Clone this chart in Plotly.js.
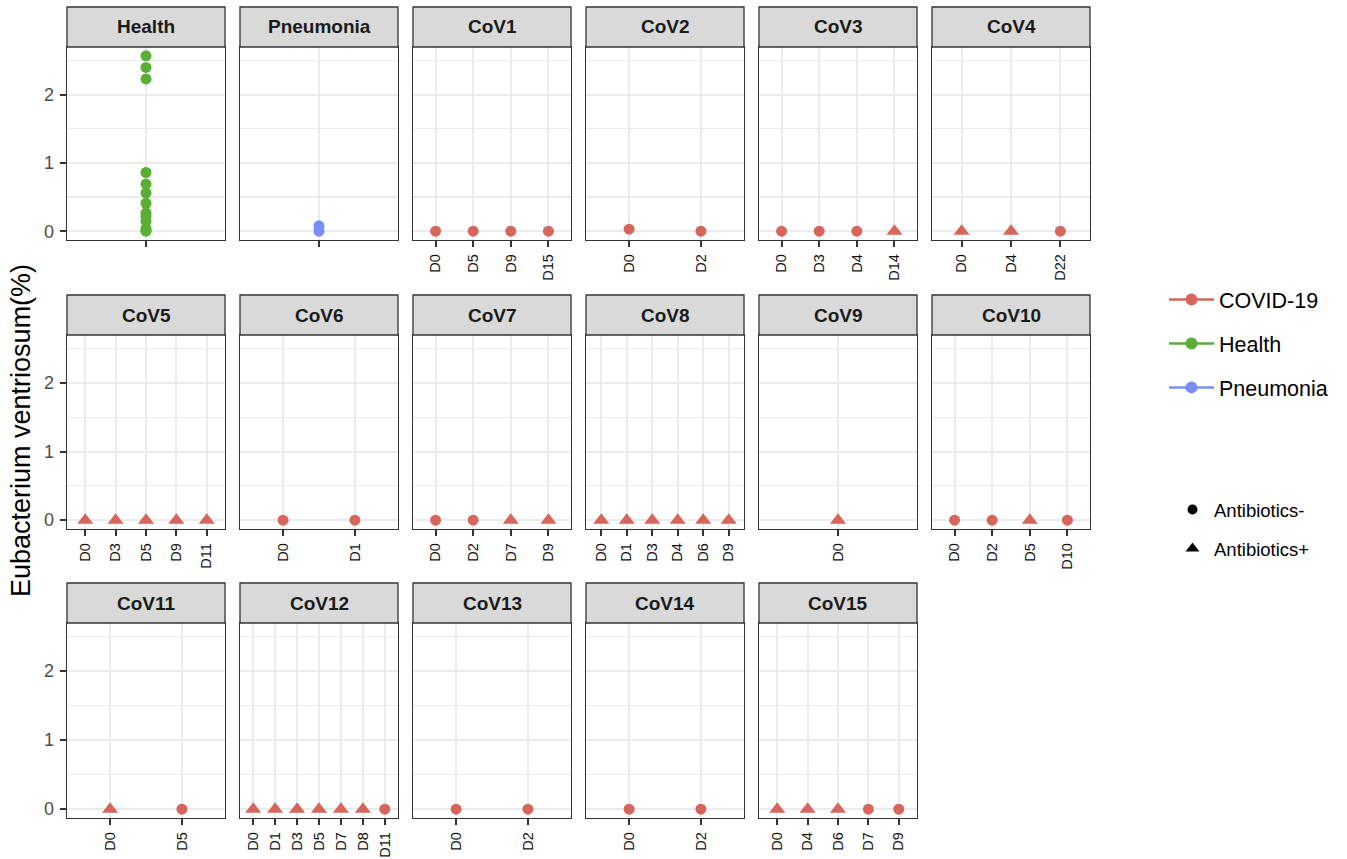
<!DOCTYPE html>
<html><head><meta charset="utf-8">
<script src="https://cdn.plot.ly/plotly-3.0.1.min.js"></script>
<style>html,body{margin:0;padding:0;background:#fff}</style>
</head><body><div id="chart" style="width:1347px;height:859px"></div>
<script>
// ---------------- data ----------------
const panelNames = ["Health","Pneumonia","CoV1","CoV2","CoV3","CoV4","CoV5","CoV6","CoV7","CoV8","CoV9","CoV10","CoV11","CoV12","CoV13","CoV14","CoV15"];
const healthValues = [2.57, 2.40, 2.23, 0.86, 0.69, 0.56, 0.41, 0.27, 0.22, 0.15, 0.04, 0.01, 0.00];
const pneumoniaValues = [0.08, 0.00];
const covDays = [
  ["D0","D5","D9","D15"],
  ["D0","D2"],
  ["D0","D3","D4","D14"],
  ["D0","D4","D22"],
  ["D0","D3","D5","D9","D11"],
  ["D0","D1"],
  ["D0","D2","D7","D9"],
  ["D0","D1","D3","D4","D6","D9"],
  ["D0"],
  ["D0","D2","D5","D10"],
  ["D0","D5"],
  ["D0","D1","D3","D5","D7","D8","D11"],
  ["D0","D2"],
  ["D0","D2"],
  ["D0","D4","D6","D7","D9"]
];
const covValues = [
  [0.00, 0.00, 0.00, 0.00],
  [0.03, 0.00],
  [0.00, 0.00, 0.00, 0.00],
  [0.00, 0.00, 0.00],
  [0.00, 0.00, 0.00, 0.00, 0.00],
  [0.00, 0.00],
  [0.00, 0.00, 0.00, 0.00],
  [0.00, 0.00, 0.00, 0.00, 0.00, 0.00],
  [0.00],
  [0.00, 0.00, 0.00, 0.00],
  [0.00, 0.00],
  [0.00, 0.00, 0.00, 0.00, 0.00, 0.00, 0.00],
  [0.00, 0.00],
  [0.00, 0.00],
  [0.00, 0.00, 0.00, 0.00, 0.00]
];
// 1 = Antibiotics+, 0 = Antibiotics-
const covAntibiotics = [
  [0,0,0,0],
  [0,0],
  [0,0,0,1],
  [1,1,0],
  [1,1,1,1,1],
  [0,0],
  [0,0,1,1],
  [1,1,1,1,1,1],
  [1],
  [0,0,1,0],
  [1,0],
  [1,1,1,1,1,1,0],
  [0,0],
  [0,0],
  [1,1,1,0,0]
];
const groupNames = ["COVID-19","Health","Pneumonia"];
const groupColors = ["#D6665C","#59AF35","#7A8DF7"];
const antibioticLabels = ["Antibiotics-","Antibiotics+"];
const antibioticSymbols = ["circle","triangle-up"];
const yTickValues = [0, 1, 2];
const yTitle = "Eubacterium ventriosum(%)";

// ---------------- geometry ----------------
const W = 1347, H = 859;
const colLeft = [67, 240, 413, 586, 759, 932];
const panelW = 158;
const rowTop = [47, 335, 623];
const rowBottom = [240, 529, 818];
const stripH = 40;
const FONT = "Liberation Sans, Arial, Helvetica, sans-serif";

// y range: data range with 5% expansion (ggplot style)
let allVals = healthValues.concat(pneumoniaValues);
covValues.forEach(v => allVals = allVals.concat(v));
const yMaxData = Math.max(...allVals), yMinData = Math.min(...allVals);
const yPad = (yMaxData - yMinData) * 0.05;
const yRange = [yMinData - yPad, yMaxData + yPad];

const traces = [];
const layout = {
  width: W, height: H,
  margin: {l:0, r:0, t:0, b:0},
  paper_bgcolor: "#ffffff", plot_bgcolor: "#ffffff",
  font: {family: FONT, color: "#000"},
  showlegend: true,
  shapes: [], annotations: []
};

panelNames.forEach((name, i) => {
  const k = i + 1;
  const col = i % 6, row = Math.floor(i / 6);
  let cats, ticktext, xs, ys, syms, color;
  if (name === "Health") {
    cats = ["Health"]; ticktext = [""];
    xs = healthValues.map(() => "Health"); ys = healthValues;
    syms = healthValues.map(() => antibioticSymbols[0]); color = groupColors[1];
  } else if (name === "Pneumonia") {
    cats = ["Pneumonia"]; ticktext = [""];
    xs = pneumoniaValues.map(() => "Pneumonia"); ys = pneumoniaValues;
    syms = pneumoniaValues.map(() => antibioticSymbols[0]); color = groupColors[2];
  } else {
    const c = i - 2;
    cats = covDays[c]; ticktext = covDays[c];
    xs = covDays[c]; ys = covValues[c];
    syms = covAntibiotics[c].map(a => antibioticSymbols[a]); color = groupColors[0];
  }
  traces.push({
    type: "scatter", mode: "markers", x: xs, y: ys,
    xaxis: "x" + k, yaxis: "y" + k, showlegend: false, cliponaxis: false,
    marker: {color: color, opacity: 1, size: syms.map(s => s === "circle" ? 11 : 14), symbol: syms, line: {width: 0}},
    hoverinfo: "x+y"
  });
  const x0 = colLeft[col], x1 = colLeft[col] + panelW;
  const yt = rowTop[row], yb = rowBottom[row];
  layout["xaxis" + (k === 1 ? "" : k)] = {
    domain: [x0 / W, x1 / W], anchor: "y" + k,
    type: "category", categoryorder: "array", categoryarray: cats,
    range: [-0.6, cats.length - 0.4],
    tickmode: "array", tickvals: cats, ticktext: ticktext,
    tickangle: -90, ticks: "outside", ticklen: 6, tickwidth: 2, tickcolor: "#333333",
    ticklabelstandoff: 1,
    tickfont: {size: 14.5, color: "#111111", family: FONT},
    showgrid: true, gridcolor: "#EBEBEB", gridwidth: 2,
    showline: true, mirror: true, linecolor: "#333333", linewidth: 1.3,
    zeroline: false, fixedrange: true
  };
  layout["yaxis" + (k === 1 ? "" : k)] = {
    domain: [1 - yb / H, 1 - yt / H], anchor: "x" + k,
    range: yRange, tickmode: "array", tickvals: yTickValues,
    showticklabels: col === 0, ticks: col === 0 ? "outside" : "",
    ticklen: 6, tickwidth: 2, tickcolor: "#333333", ticklabelstandoff: 2,
    tickfont: {size: 18, color: "#4D4D4D", family: FONT},
    showgrid: true, gridcolor: "#EBEBEB", gridwidth: 2,
    minor: {tickvals: [0.5, 1.5, 2.5], showgrid: true, gridcolor: "#EBEBEB", gridwidth: 1.2, ticks: ""},
    showline: true, mirror: true, linecolor: "#333333", linewidth: 1.3,
    zeroline: false, fixedrange: true
  };
  // facet strip
  layout.shapes.push({
    type: "rect", xref: "paper", yref: "paper",
    x0: x0 / W, x1: x1 / W, y0: 1 - yt / H, y1: 1 - (yt - stripH) / H,
    fillcolor: "#D9D9D9", line: {color: "#333333", width: 1.3}, layer: "above"
  });
  layout.annotations.push({
    text: name, xref: "paper", yref: "paper",
    x: (x0 + x1) / 2 / W, y: 1 - (yt - stripH / 2) / H,
    xanchor: "center", yanchor: "middle", showarrow: false,
    font: {size: 19, color: "#1A1A1A", family: FONT, weight: "bold"}
  });
});

// y-axis title
layout.annotations.push({
  text: yTitle, xref: "paper", yref: "paper", x: 21 / W, y: 1 - 431 / H,
  xanchor: "center", yanchor: "middle", textangle: -90, showarrow: false,
  font: {size: 27, color: "#000", family: FONT}
});

// legend entries (colour)
groupNames.forEach((g, j) => {
  traces.push({
    type: "scatter", mode: "lines+markers", x: [null], y: [null], xaxis: "x", yaxis: "y",
    name: g, legend: "legend", legendgroup: g, showlegend: true,
    marker: {color: groupColors[j], size: 12, symbol: "circle", opacity: 1},
    line: {color: groupColors[j], width: 2.5}
  });
});
// legend entries (shape)
antibioticLabels.forEach((a, j) => {
  traces.push({
    type: "scatter", mode: "markers", x: [null], y: [null], xaxis: "x", yaxis: "y",
    name: a, legend: "legend2", legendgroup: a, showlegend: true,
    marker: {color: "#000", size: j === 0 ? 10 : 12, symbol: antibioticSymbols[j], opacity: 1}
  });
});

layout.legend = {
  x: 1164 / W, y: 1 - 279 / H, xanchor: "left", yanchor: "top",
  font: {size: 21.5, color: "#000", family: FONT},
  itemwidth: 45, tracegroupgap: 13, traceorder: "grouped",
  bgcolor: "rgba(0,0,0,0)", borderwidth: 0
};
layout.legend2 = {
  x: 1171 / W, y: 1 - 491 / H, xanchor: "left", yanchor: "top",
  font: {size: 18.5, color: "#000", family: FONT},
  itemwidth: 33, tracegroupgap: 12, traceorder: "grouped",
  bgcolor: "rgba(0,0,0,0)", borderwidth: 0
};

Plotly.newPlot("chart", traces, layout, {staticPlot: true, displayModeBar: false});
</script>
</body></html>
